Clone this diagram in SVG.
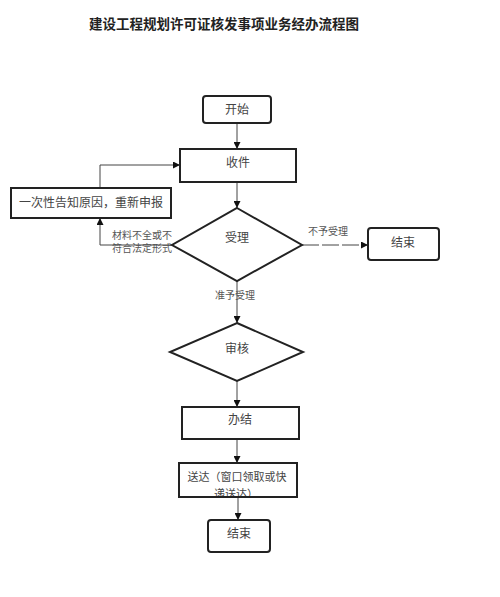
<svg xmlns="http://www.w3.org/2000/svg" width="500" height="597" viewBox="0 0 500 597">
<style>
.box{fill:#fff;stroke:#222;stroke-width:2}
.t{font-family:"Liberation Sans","Noto Sans CJK SC",sans-serif;font-size:12px;fill:#444;text-anchor:middle;dominant-baseline:central}
.t.s{font-size:11px}
.lbl{font-family:"Liberation Serif","Noto Sans CJK SC",serif;font-size:10px;fill:#555;dominant-baseline:central}
.ln{fill:none;stroke:#444;stroke-width:1}
</style>
<defs>
<marker id="ah" viewBox="0 0 10 10" refX="10" refY="5" markerWidth="7" markerHeight="7" orient="auto" markerUnits="userSpaceOnUse">
<path d="M0,0 L10,5 L0,10 z" fill="#111"/>
</marker>
<clipPath id="clipSend"><rect x="179" y="463" width="118" height="33"/></clipPath>
</defs>
<rect width="500" height="597" fill="#fff"/>
<text x="224" y="23" font-family="'Noto Sans CJK SC',sans-serif" font-size="13.5" font-weight="bold" fill="#222" text-anchor="middle" dominant-baseline="central">建设工程规划许可证核发事项业务经办流程图</text>

<g id="connectors">
<path class="ln" d="M237,123 V149" marker-end="url(#ah)"/>
<path class="ln" d="M237,182 V208" marker-end="url(#ah)"/>
<path class="ln" d="M172,245 H100 V218" marker-end="url(#ah)"/>
<path class="ln" d="M100,188 V165 H180" marker-end="url(#ah)"/>
<path class="ln" d="M302,245 H368" stroke-dasharray="17 3" marker-end="url(#ah)"/>
<path class="ln" d="M237,281 V323" marker-end="url(#ah)"/>
<path class="ln" d="M237,381 V407" marker-end="url(#ah)"/>
<path class="ln" d="M237,439 V463" marker-end="url(#ah)"/>
<path class="ln" d="M238,497 V520" marker-end="url(#ah)"/>
<text class="lbl" x="112" y="235">材料不全或不</text>
<text class="lbl" x="112" y="248">符合法定形式</text>
<text class="lbl" x="308" y="231">不予受理</text>
<text class="lbl" x="215" y="295">准予受理</text>
</g>

<g id="start"><rect class="box" x="203" y="96" width="68" height="27" rx="3"/><text class="t" x="237" y="110">开始</text></g>
<g id="receive"><rect class="box" x="180" y="149" width="116" height="33"/><text class="t" x="238" y="163">收件</text></g>
<g id="notify"><rect class="box" x="11" y="188" width="160" height="30"/><text class="t" x="91" y="203">一次性告知原因，重新申报</text></g>
<g id="accept"><polygon class="box" points="237,208 302,245 237,281 172,245"/><text class="t" x="237" y="238">受理</text></g>
<g id="end1"><rect class="box" x="368" y="228" width="71" height="32" rx="3"/><text class="t" x="403" y="243">结束</text></g>
<g id="review"><polygon class="box" points="237,323 303,352 237,381 170,352"/><text class="t" x="237" y="349">审核</text></g>
<g id="finish"><rect class="box" x="182" y="407" width="117" height="32"/><text class="t" x="240" y="420">办结</text></g>
<g id="deliver"><rect class="box" x="179" y="463" width="118" height="34"/>
<text class="t s" x="237" y="477">送达（窗口领取或快</text>
<text class="t s" x="236" y="494" clip-path="url(#clipSend)">递送达）</text></g>
<g id="end2"><rect class="box" x="208" y="520" width="62" height="32" rx="3"/><text class="t" x="239" y="534">结束</text></g>
</svg>
